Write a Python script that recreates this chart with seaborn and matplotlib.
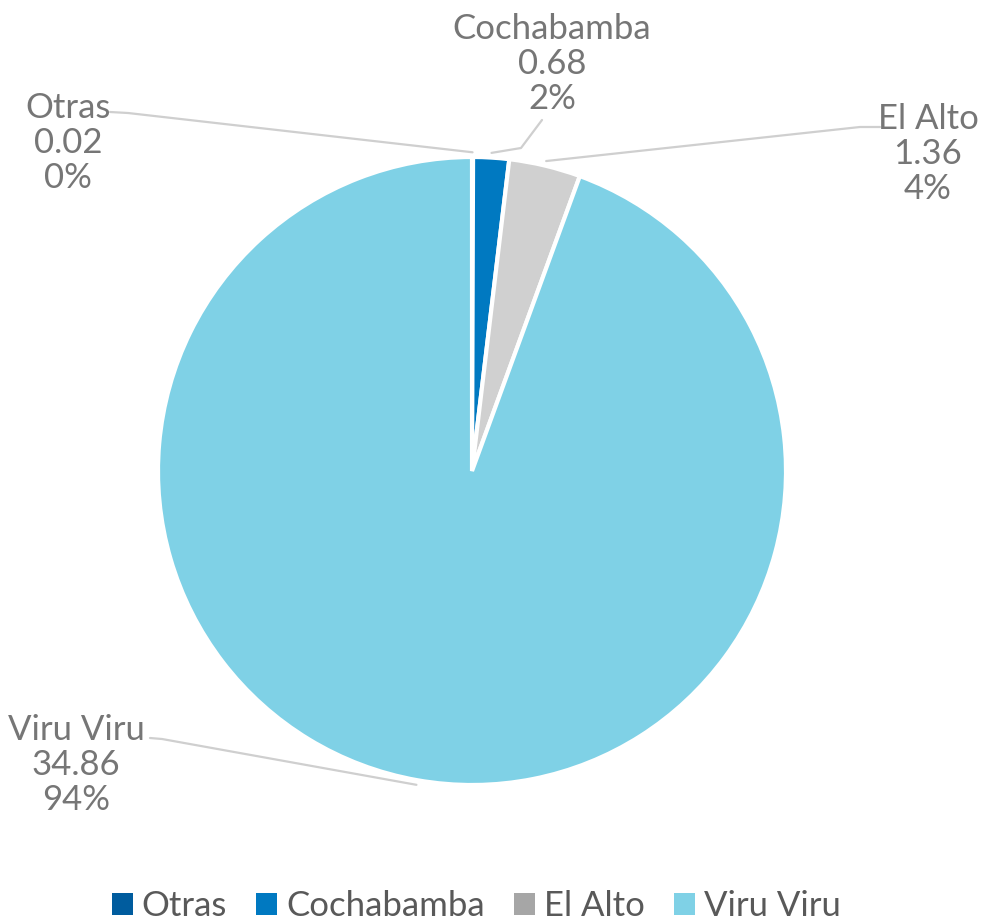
import numpy as np
import matplotlib.pyplot as plt
from matplotlib.patches import Patch
import seaborn as sns

sns.set_theme(style="white")
plt.rcParams['font.family'] = ['Lato', 'DejaVu Sans']

# data
terminales = ["Otras", "Cochabamba", "El Alto", "Viru Viru"]
valores = [0.02, 0.68, 1.36, 34.86]
colores = ["#005C9E", "#0079C1", "#D0D0D0", "#7FD1E6"]
colores_leyenda = ["#005C9E", "#0079C1", "#A6A6A6", "#7FD1E6"]

W, H = 982, 921
CX, CY, R = 472, 471, 314  # pie centre / radius in pixels


def px(x, y):
    # pixel -> data coords of the pie axes
    return (x - CX) / R, (CY - y) / R


fig = plt.figure(figsize=(W / 100, H / 100), dpi=100)
ax = fig.add_axes([(CX - R) / W, (H - CY - R) / H, 2 * R / W, 2 * R / H])

wedges, _ = ax.pie(valores, colors=colores, startangle=90, counterclock=False,
                   radius=1, wedgeprops=dict(edgecolor="white", linewidth=3))
ax.set_xlim(-1, 1)
ax.set_ylim(-1, 1)

total = sum(valores)
pcts = [round(v / total * 100) for v in valores]

# label text position (px) and leader line path from label (px)
etiquetas = {
    "Otras": ((68, 143), [(110, 112), (128, 113)]),
    "Cochabamba": ((552, 64), [(542, 120), (521, 148)]),
    "El Alto": ((928, 154), [(880, 127), (860, 127)]),
    "Viru Viru": ((76, 765), [(150, 738), (162, 739)]),
}

for w, nombre, v, p in zip(wedges, terminales, valores, pcts):
    ang = np.deg2rad((w.theta1 + w.theta2) / 2)
    ancla = (1.015 * np.cos(ang), 1.015 * np.sin(ang))
    (tx, ty), ruta = etiquetas[nombre]
    pts = [px(*q) for q in ruta] + [ancla]
    xs, ys = zip(*pts)
    ax.plot(xs, ys, color="#CFCFCF", lw=1.6, clip_on=False, zorder=0)
    ax.text(*px(tx, ty), f"{nombre}\n{v:.2f}\n{p}%", ha="center", va="center",
            fontsize=25, color="#767676", linespacing=1.13)

handles = [Patch(facecolor=c, edgecolor="none") for c in colores_leyenda]
fig.legend(handles, terminales, loc="lower center", ncol=4, frameon=False,
           bbox_to_anchor=(0.485, -0.035), fontsize=25, labelcolor="#595959",
           handlelength=0.6, handleheight=0.6, handletextpad=0.25, columnspacing=0.85)

fig.savefig("out.png", dpi=100)
